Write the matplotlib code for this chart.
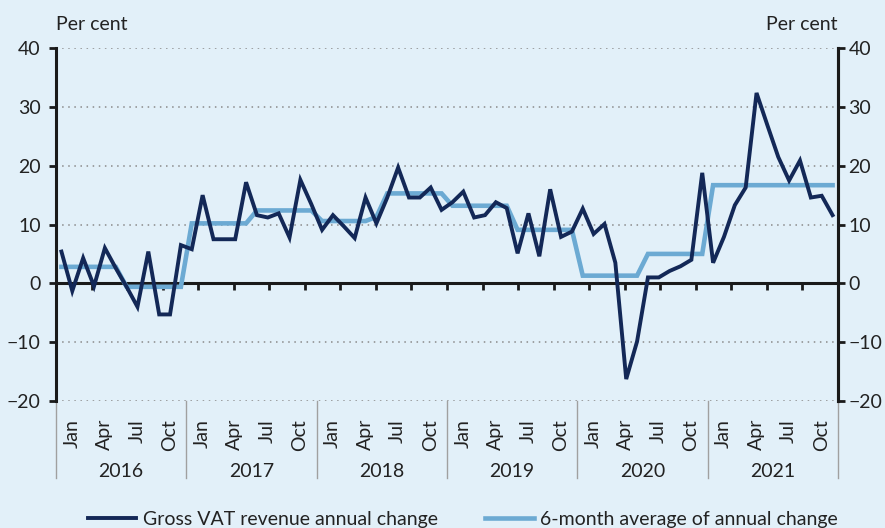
import matplotlib
matplotlib.use("Agg")
import matplotlib.pyplot as plt
import matplotlib.transforms as mtransforms
import numpy as np

years = ["2016", "2017", "2018", "2019", "2020", "2021"]
month_labels = ["Jan", "Apr", "Jul", "Oct"]

vat_change = [
    5.4, -1.3, 4.3, -0.5, 6.0, 2.6, -0.6, -4.0, 5.4, -5.3, -5.3, 6.5,
    5.8, 15.0, 7.5, 7.5, 7.5, 17.2, 11.6, 11.2, 11.9, 7.8, 17.6, 13.5,
    9.1, 11.6, 9.7, 7.7, 14.6, 10.2, 14.6, 19.7, 14.6, 14.6, 16.3, 12.5,
    13.8, 15.6, 11.2, 11.6, 13.8, 12.8, 5.1, 11.9, 4.6, 16.0, 7.9, 8.8,
    12.7, 8.4, 10.1, 3.5, -16.3, -9.9, 1.0, 1.0, 2.1, 2.9, 4.0, 18.8,
    3.5, 7.9, 13.3, 16.3, 32.4, 26.9, 21.5, 17.5, 20.9, 14.6, 14.9, 11.6,
]
avg6_change = [
    2.8, 2.8, 2.8, 2.8, 2.8, 2.8, -0.6, -0.6, -0.6, -0.6, -0.6, -0.6,
    10.2, 10.2, 10.2, 10.2, 10.2, 10.2, 12.4, 12.4, 12.4, 12.4, 12.4, 12.4,
    10.6, 10.6, 10.6, 10.6, 10.6, 11.3, 15.3, 15.3, 15.3, 15.3, 15.3, 15.3,
    13.2, 13.2, 13.2, 13.2, 13.2, 13.2, 9.1, 9.1, 9.1, 9.1, 9.1, 9.1,
    1.3, 1.3, 1.3, 1.3, 1.3, 1.3, 5.0, 5.0, 5.0, 5.0, 5.0, 5.0,
    16.7, 16.7, 16.7, 16.7, 16.7, 16.7, 16.7, 16.7, 16.7, 16.7, 16.7, 16.7,
]

BG = "#E2F0F9"
NAVY = "#132857"
LIGHT = "#6CAAD3"
TXT = "#222222"
AXC = "#1a1a1a"

plt.rcParams["font.family"] = ["Lato", "DejaVu Sans"]
plt.rcParams["font.size"] = 14

fig = plt.figure(figsize=(8.85, 5.28), dpi=100, facecolor=BG)
ax = fig.add_axes([56 / 885, 1 - 400.8 / 528, (838 - 56) / 885, (400.8 - 48.3) / 528])
ax.set_facecolor(BG)

n = len(vat_change)
x = np.arange(n) + 0.5
ax.plot(x, avg6_change, color=LIGHT, lw=3.3, solid_joinstyle="miter", zorder=3,
        label="6-month average of annual change")
ax.plot(x, vat_change, color=NAVY, lw=2.8, solid_joinstyle="miter", zorder=4,
        label="Gross VAT revenue annual change")

ax.set_xlim(0, n)
ax.set_ylim(-20, 40)
ax.set_yticks(np.arange(-20, 41, 10))

# grid
ax.yaxis.grid(True, linestyle=(0, (1.0, 3.0)), color="#8a8a8a", lw=1.1)
ax.set_axisbelow(True)

# spines
ax.spines["top"].set_visible(False)
ax.spines["bottom"].set_position(("data", 0))
ax.spines["bottom"].set_linewidth(2.2)
ax.spines["bottom"].set_color(AXC)
ax.spines["bottom"].set_zorder(2.5)
for s in ["left", "right"]:
    ax.spines[s].set_linewidth(2.2)
    ax.spines[s].set_color(AXC)

ax.tick_params(axis="y", direction="out", length=5, width=2, color=AXC,
               labelsize=14, labelcolor=TXT, left=True, right=False, pad=6)

axr = ax.twinx()
axr.set_ylim(ax.get_ylim())
axr.set_yticks(np.arange(-20, 41, 10))
for s in ["top", "bottom", "left"]:
    axr.spines[s].set_visible(False)
axr.spines["right"].set_linewidth(2.2)
axr.spines["right"].set_color(AXC)
axr.tick_params(axis="y", direction="out", length=5, width=2, color=AXC,
                labelsize=14, labelcolor=TXT, pad=2.5)

xt = np.arange(1, 22) * n / 22
ax.set_xticks(xt)
ax.tick_params(axis="x", direction="out", length=5, width=2, color=AXC,
               labelbottom=False)

# category labels
trans = mtransforms.blended_transform_factory(ax.transData, fig.transFigure)
for yi, yr in enumerate(years):
    for mi, ml in enumerate(month_labels):
        ax.text(yi * 12 + mi * 3 + 1.45, 1 - 419 / 528, ml, rotation=90,
                ha="center", va="top", fontsize=14, color=TXT, transform=trans)
    ax.text(yi * 12 + 6, 1 - 471.7 / 528, yr, ha="center", va="center",
            fontsize=14, color=TXT, transform=trans)
for k in range(len(years) + 1):
    ax.plot([k * 12, k * 12], [1 - 400.8 / 528, 1 - 478 / 528], color="#a0a0a0",
            lw=1.0, transform=trans, clip_on=False)

fig.text(56 / 885, 1 - 25 / 528, "Per cent", ha="left", va="center", fontsize=14, color=TXT)
fig.text(838 / 885, 1 - 25 / 528, "Per cent", ha="right", va="center", fontsize=14, color=TXT)

h, l = ax.get_legend_handles_labels()
leg = fig.legend([h[1], h[0]], [l[1], l[0]], loc="center", ncol=2,
                 bbox_to_anchor=(463 / 885, 1 - 519 / 528), frameon=False,
                 fontsize=14, handlelength=2.5, handletextpad=0.35,
                 columnspacing=2.4, labelcolor=TXT)

fig.savefig("out.png", dpi=100, facecolor=BG)
